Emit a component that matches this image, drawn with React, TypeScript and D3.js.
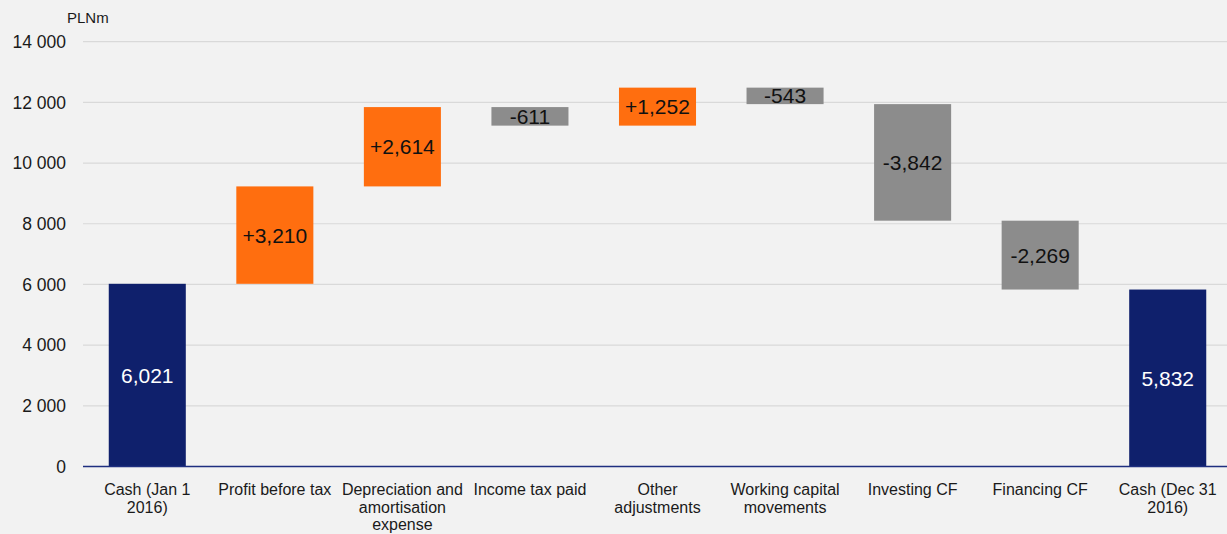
import React from "react";
import * as d3 from "d3";

const categories: string[][] = [
  ["Cash (Jan 1", "2016)"],
  ["Profit before tax"],
  ["Depreciation and", "amortisation", "expense"],
  ["Income tax paid"],
  ["Other", "adjustments"],
  ["Working capital", "movements"],
  ["Investing CF"],
  ["Financing CF"],
  ["Cash (Dec 31", "2016)"],
];
const kinds = ["total", "delta", "delta", "delta", "delta", "delta", "delta", "delta", "total"];
const values = [6021, 3210, 2614, -611, 1252, -543, -3842, -2269, 5832];
const yTicks = [0, 2000, 4000, 6000, 8000, 10000, 12000, 14000];

const W = 1227;
const H = 534;

export default function App() {
  const x = d3.scaleBand<number>().domain(d3.range(values.length)).range([83.5, 1231.5]).paddingInner(0.396).paddingOuter(0.198);
  const y = d3.scaleLinear().domain([0, 14000]).range([466.5, 41.7]);
  const fmt = (v: number) => d3.format(",")(Math.abs(v));
  const tickFmt = (v: number) => d3.format(",")(v).replace(/,/g, " ");

  let running = 0;
  const bars = values.map((v, i) => {
    let lo: number, hi: number;
    if (kinds[i] === "total") {
      lo = 0;
      hi = v;
      running = v;
    } else {
      const start = running;
      running = start + v;
      lo = Math.min(start, running);
      hi = Math.max(start, running);
    }
    const color = kinds[i] === "total" ? "#0f206c" : v >= 0 ? "#ff6e0f" : "#8c8c8c";
    const label = kinds[i] === "total" ? fmt(v) : (v >= 0 ? "+" : "-") + fmt(v);
    return { i, lo, hi, color, label, total: kinds[i] === "total" };
  });

  const font = "'Liberation Sans', Arial, sans-serif";

  return (
    <svg width={W} height={H} style={{ position: "absolute", left: 0, top: 0, background: "#f2f2f2" }} fontFamily={font}>
      <rect x={0} y={0} width={W} height={H} fill="#f2f2f2" />
      {yTicks.map((t) => (
        <g key={t}>
          {t !== 0 && <line x1={83} x2={W} y1={y(t)} y2={y(t)} stroke="#d9d9d9" strokeWidth={1.2} />}
          <text x={66} y={y(t)} dy="0.36em" textAnchor="end" fontSize={17.5} fill="#1a1a1a">
            {tickFmt(t)}
          </text>
        </g>
      ))}
      <text x={67} y={23} fontSize={15} fill="#1a1a1a">PLNm</text>
      {bars.map((b) => (
        <g key={b.i}>
          <rect x={x(b.i)!} width={x.bandwidth()} y={y(b.hi)} height={y(b.lo) - y(b.hi)} fill={b.color} />
          <text
            x={x(b.i)! + x.bandwidth() / 2}
            y={(y(b.hi) + y(b.lo)) / 2}
            dy="0.36em"
            textAnchor="middle"
            fontSize={21}
            fill={b.total ? "#ffffff" : "#111111"}
          >
            {b.label}
          </text>
        </g>
      ))}
      <line x1={83} x2={W} y1={y(0)} y2={y(0)} stroke="#1f2f80" strokeWidth={1.5} />
      {categories.map((lines, i) => (
        <text key={i} x={x(i)! + x.bandwidth() / 2} textAnchor="middle" fontSize={16} fill="#1a1a1a">
          {lines.map((ln, j) => (
            <tspan key={j} x={x(i)! + x.bandwidth() / 2} y={495 + j * 17.5}>
              {ln}
            </tspan>
          ))}
        </text>
      ))}
    </svg>
  );
}
